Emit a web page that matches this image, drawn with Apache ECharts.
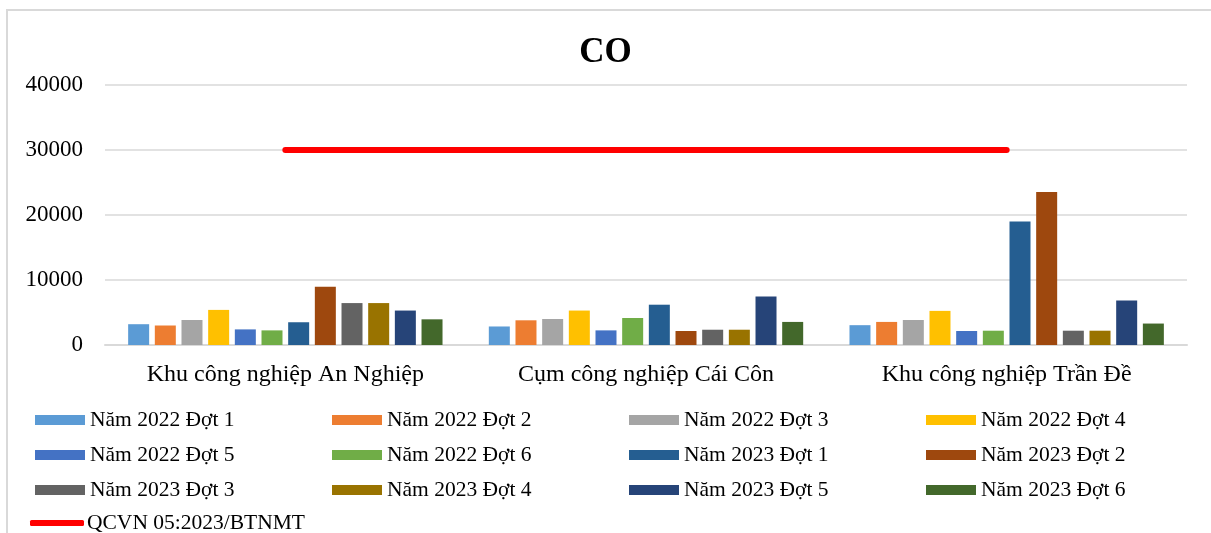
<!DOCTYPE html>
<html>
<head>
<meta charset="utf-8">
<script src="https://cdn.jsdelivr.net/npm/echarts@6/dist/echarts.min.js"></script>
<style>
  html, body { margin: 0; padding: 0; background: #fff; }
  #chart { width: 1211px; height: 533px; }
</style>
</head>
<body>
<div id="chart"></div>
<script>
// CO concentration by monitoring site and sampling round
const categories = ['Khu công nghiệp An Nghiệp', 'Cụm công nghiệp Cái Côn', 'Khu công nghiệp Trần Đề'];

const yTicks = [0, 10000, 20000, 30000, 40000];

// 2022 rounds (Đợt 1..6), values per site in category order
const rounds2022 = [
  [3200, 2850, 3050],
  [3000, 3800, 3550],
  [3850, 4000, 3850],
  [5400, 5300, 5250],
  [2400, 2250, 2150],
  [2250, 4150, 2200]
];

// 2023 rounds (Đợt 1..6)
const rounds2023 = [
  [3500, 6200, 19000],
  [8950, 2150, 23550],
  [6450, 2350, 2200],
  [6450, 2350, 2200],
  [5300, 7450, 6850],
  [3950, 3550, 3300]
];

// Regulation limit QCVN 05:2023/BTNMT
const limitName = 'QCVN 05:2023/BTNMT';
const limitValues = [30000, 30000, 30000];

const barColors = [
  '#5B9BD5', '#ED7D31', '#A5A5A5', '#FFC000', '#4472C4', '#70AD47',
  '#255E91', '#9E480E', '#636363', '#997300', '#264478', '#43682B'
];

const FONT = "'Liberation Serif', 'Times New Roman', serif";

const barSeries = [];
rounds2022.forEach((vals, i) => barSeries.push({ name: 'Năm 2022 Đợt ' + (i + 1), data: vals }));
rounds2023.forEach((vals, i) => barSeries.push({ name: 'Năm 2023 Đợt ' + (i + 1), data: vals }));

const series = barSeries.map((s, i) => ({
  name: s.name,
  type: 'bar',
  data: s.data,
  barWidth: 21,
  barGap: '27%',
  itemStyle: { color: barColors[i] },
  emphasis: { disabled: true }
}));
series.push({
  name: limitName,
  type: 'line',
  data: limitValues,
  symbol: 'none',
  lineStyle: { color: '#FF0000', width: 6, cap: 'round' },
  itemStyle: { color: '#FF0000' },
  z: 5
});

// one legend block per item, laid out in a 4-column grid
const legendNames = series.map(s => s.name);
const legends = legendNames.map((name, i) => {
  const col = i % 4, row = Math.floor(i / 4);
  const isLine = name === limitName;
  return {
    data: [{ name: name, icon: isLine ? 'roundRect' : 'rect' }],
    left: (isLine ? 30 : 35) + col * 297,
    top: [409, 444, 479, 512][row],
    padding: 0,
    itemWidth: isLine ? 54 : 50,
    itemHeight: isLine ? 6 : 10,
    itemGap: 0,
    selectedMode: false,
    textStyle: { fontFamily: FONT, fontSize: 21.5, color: '#000', padding: [0, 0, 0, isLine ? -2 : 0] }
  };
});

const chart = echarts.init(document.getElementById('chart'), null, { renderer: 'canvas' });
chart.setOption({
  animation: false,
  backgroundColor: '#fff',
  title: {
    text: 'CO',
    left: 'center',
    top: 30,
    textStyle: { fontFamily: FONT, fontSize: 35, fontWeight: 'bold', color: '#000' }
  },
  graphic: [{
    type: 'polyline',
    shape: { points: [[7, 533], [7, 10], [1211, 10]] },
    style: { stroke: '#D9D9D9', lineWidth: 2, fill: null },
    silent: true
  }],
  legend: legends,
  grid: { left: 105, right: 24, top: 85, bottom: 188 },
  xAxis: {
    type: 'category',
    data: categories,
    axisTick: { show: false },
    axisLine: { lineStyle: { color: '#D9D9D9', width: 2 } },
    axisLabel: { fontFamily: FONT, fontSize: 24, color: '#000', margin: 18 }
  },
  yAxis: {
    type: 'value',
    min: yTicks[0],
    max: yTicks[yTicks.length - 1],
    interval: yTicks[1] - yTicks[0],
    axisLine: { show: false },
    axisTick: { show: false },
    splitLine: { lineStyle: { color: '#D9D9D9', width: 1.5 } },
    axisLabel: {
      fontFamily: FONT, fontSize: 23, color: '#000', margin: 22,
      formatter: v => String(v)
    }
  },
  series: series
});
</script>
</body>
</html>
